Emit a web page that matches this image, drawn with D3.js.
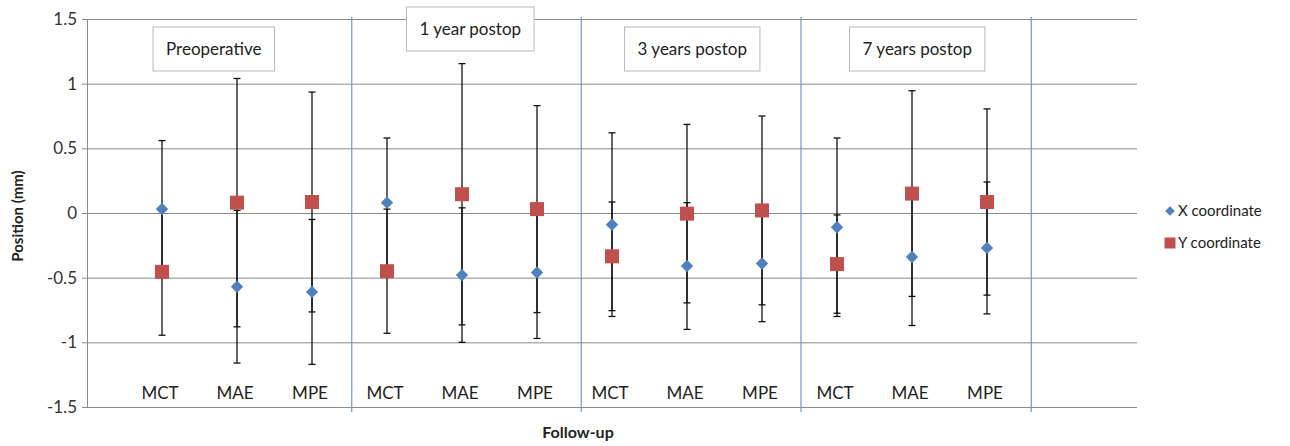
<!DOCTYPE html>
<html>
<head>
<meta charset="utf-8">
<script src="https://cdn.jsdelivr.net/npm/d3@7/dist/d3.min.js"></script>
<style>
  html, body { margin: 0; padding: 0; background: #fff; }
  svg { display: block; font-family: Lato, "Open Sans", sans-serif; }
</style>
</head>
<body>
<svg id="chart" width="1290" height="446"></svg>
<script>
// Measurement categories, repeated for every follow-up period
const categories = ["MCT", "MAE", "MPE", "MCT", "MAE", "MPE", "MCT", "MAE", "MPE", "MCT", "MAE", "MPE"];
const periods = ["Preoperative", "1 year postop", "3 years postop", "7 years postop"];

// Mean position and standard deviation (mm)
const xMean = [0.03, -0.57, -0.61, 0.08, -0.48, -0.46, -0.09, -0.41, -0.39, -0.11, -0.34, -0.27];
const xSD   = [0.53, 0.59, 0.56, 0.50, 0.52, 0.51, 0.71, 0.49, 0.45, 0.69, 0.53, 0.51];
const yMean = [-0.455, 0.08, 0.085, -0.45, 0.145, 0.03, -0.335, -0.005, 0.02, -0.395, 0.15, 0.085];
const ySD   = [0.49, 0.96, 0.85, 0.48, 1.01, 0.80, 0.42, 0.69, 0.73, 0.38, 0.795, 0.72];

const yTicks = [-1.5, -1, -0.5, 0, 0.5, 1, 1.5];
const tickLabels = ["-1.5", "-1", "-0.5", "0", "0.5", "1", "1.5"];
// separators between follow-up periods, in category units
const dividers = [3.53, 6.59, 9.52, 12.59];

const series = [
  { name: "X coordinate", mean: xMean, sd: xSD, color: "#4F81BD", shape: "diamond" },
  { name: "Y coordinate", mean: yMean, sd: ySD, color: "#C0504D", shape: "square" }
];

const svg = d3.select("#chart");
const plotLeft = 87, plotRight = 1137, plotTop = 19, plotBottom = 407;

const x = d3.scaleLinear().domain([0, categories.length + 2]).range([plotLeft, plotRight]);
const y = d3.scaleLinear().domain([-1.5, 1.5]).range([plotBottom, plotTop]);

// horizontal gridlines via the y axis
const yAxis = d3.axisLeft(y).tickValues(yTicks)
  .tickFormat((d, i) => tickLabels[i])
  .tickSize(-(plotRight - plotLeft)).tickSizeOuter(0).tickPadding(10);
const gy = svg.append("g").attr("transform", `translate(${plotLeft},0)`).call(yAxis);
gy.select(".domain").attr("stroke", "#8a8a8a");
gy.selectAll(".tick line").attr("stroke", "#8a8a8a").attr("x1", -5);
gy.selectAll(".tick text").attr("fill", "#333").style("font-size", "17px")
  .style("font-family", "Lato, sans-serif");

// period separators
svg.append("g").selectAll("line").data(dividers).join("line")
  .attr("x1", d => x(d)).attr("x2", d => x(d))
  .attr("y1", plotTop - 2).attr("y2", plotBottom + 5)
  .attr("stroke", "#7397c4").attr("stroke-width", 1.2);

// category labels inside the plot
svg.append("g").selectAll("text").data(categories).join("text")
  .attr("x", (d, i) => x(i + 1) - 2).attr("y", y(-1.44))
  .attr("text-anchor", "middle").attr("fill", "#222")
  .style("font-size", "17px").text(d => d);

// period label boxes
const boxCenters = [1.69, 5.11, 8.07, 11.07];
const boxTops = [27, 7, 27, 27];
const boxG = svg.append("g");
periods.forEach((p, i) => {
  const g = boxG.append("g");
  const rect = g.append("rect");
  const t = g.append("text").attr("x", x(boxCenters[i])).attr("y", boxTops[i] + 28)
    .attr("text-anchor", "middle").attr("fill", "#222").style("font-size", "17px").text(p);
  const w = t.node().getComputedTextLength() + 26;
  rect.attr("x", x(boxCenters[i]) - w / 2).attr("y", boxTops[i])
    .attr("width", w).attr("height", 44)
    .attr("fill", "#fff").attr("stroke", "#b8b8b8");
});

// error bars
const cap = 3.5;
series.forEach(s => {
  const g = svg.append("g");
  s.mean.forEach((m, i) => {
    const cx = x(i + 1), hi = y(m + s.sd[i]), lo = y(m - s.sd[i]);
    g.append("line").attr("x1", cx).attr("x2", cx).attr("y1", hi).attr("y2", lo)
      .attr("stroke", "#111").attr("stroke-width", 1.3);
    [hi, lo].forEach(v => g.append("line").attr("x1", cx - cap).attr("x2", cx + cap)
      .attr("y1", v).attr("y2", v).attr("stroke", "#111").attr("stroke-width", 1.3));
  });
});

// markers
const diamond = d3.symbol().type(d3.symbolDiamond2).size(98);
series.forEach(s => {
  const g = svg.append("g");
  if (s.shape === "diamond") {
    g.selectAll("path").data(s.mean).join("path")
      .attr("d", diamond)
      .attr("transform", (d, i) => `translate(${x(i + 1)},${y(d)})`)
      .attr("fill", s.color);
  } else {
    g.selectAll("rect").data(s.mean).join("rect")
      .attr("x", (d, i) => x(i + 1) - 7).attr("y", d => y(d) - 7)
      .attr("width", 14).attr("height", 14).attr("fill", s.color);
  }
});

// axis titles
svg.append("text").attr("transform", `translate(23,216) rotate(-90)`)
  .attr("text-anchor", "middle").style("font-size", "15px").style("font-weight", "bold")
  .attr("fill", "#222").text("Position (mm)");
svg.append("text").attr("x", 578).attr("y", 438).attr("text-anchor", "middle")
  .style("font-size", "16px").style("font-weight", "bold").attr("fill", "#222").text("Follow-up");

// legend
const lg = svg.append("g");
series.forEach((s, i) => {
  const ly = 211 + i * 32;
  if (s.shape === "diamond") {
    lg.append("path").attr("d", d3.symbol().type(d3.symbolDiamond2).size(60))
      .attr("transform", `translate(1170,${ly})`).attr("fill", s.color);
  } else {
    lg.append("rect").attr("x", 1164.5).attr("y", ly - 5.5).attr("width", 11).attr("height", 11).attr("fill", s.color);
  }
  lg.append("text").attr("x", 1178).attr("y", ly + 5).attr("fill", "#222")
    .style("font-size", "15px").text(s.name);
});
</script>
</body>
</html>
